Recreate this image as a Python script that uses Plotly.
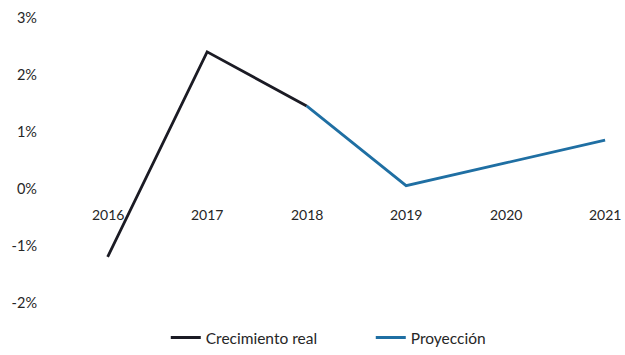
import plotly.graph_objects as go

# Growth data (%), actual vs. projection
years = ["2016", "2017", "2018", "2019", "2020", "2021"]
real_years = ["2016", "2017", "2018"]
real_values = [-1.2, 2.4, 1.45]
proj_years = ["2018", "2019", "2020", "2021"]
proj_values = [1.45, 0.05, 0.45, 0.85]
y_ticks = [-2, -1, 0, 1, 2, 3]

idx = {y: i for i, y in enumerate(years)}
font_family = "Lato, 'Open Sans', sans-serif"
text_color = "#262626"

fig = go.Figure()
fig.add_trace(go.Scatter(
    x=[idx[y] for y in real_years], y=real_values, mode="lines",
    name="Crecimiento real", line=dict(color="#1b1b24", width=2.8),
))
fig.add_trace(go.Scatter(
    x=[idx[y] for y in proj_years], y=proj_values, mode="lines",
    name="Proyección", line=dict(color="#1f6fa3", width=2.8),
))

# Category labels sit just under the zero line
for y in years:
    fig.add_annotation(x=idx[y], y=0, text=y, showarrow=False,
                       yshift=-26, yanchor="middle",
                       font=dict(family=font_family, size=14, color=text_color))

fig.update_layout(
    width=625, height=355,
    margin=dict(l=40, r=0, t=0, b=0),
    paper_bgcolor="white", plot_bgcolor="white",
    showlegend=True,
    legend=dict(orientation="h", x=0.215, xanchor="left", y=0.04, yanchor="middle",
                font=dict(family=font_family, size=15.5, color=text_color),
                bgcolor="rgba(0,0,0,0)", itemwidth=30,
                entrywidth=160, entrywidthmode="pixels"),
    xaxis=dict(range=[-0.68, 5.2], showticklabels=False, showgrid=False,
               zeroline=False, showline=False),
    yaxis=dict(range=[-2.87, 3.31], tickvals=y_ticks,
               ticktext=[f"{v}%" for v in y_ticks],
               showgrid=False, zeroline=False, showline=False,
               tickfont=dict(family=font_family, size=14.5, color=text_color),
               ticklabelstandoff=2),
)

fig.write_html("out.html")
